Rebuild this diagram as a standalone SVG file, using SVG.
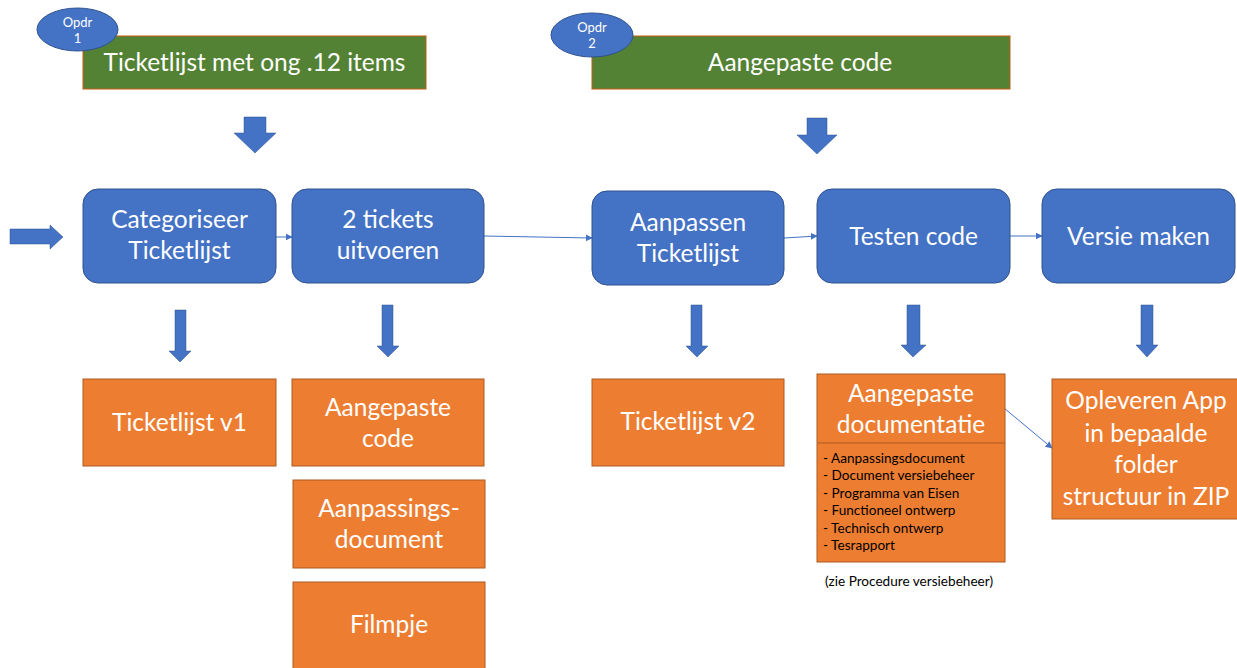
<svg xmlns="http://www.w3.org/2000/svg" width="1237" height="668" viewBox="0 0 1237 668">
<defs>
<style>
.t{font-family:Lato,"Open Sans","Liberation Sans",sans-serif;fill:#fff;text-anchor:middle}
.big{font-size:24.5px}
.green{fill:#548235;stroke:#C55A11;stroke-width:1}
.blue{fill:#4472C4;stroke:#2F528F;stroke-width:1}
.orange{fill:#ED7D31;stroke:#AE5A21;stroke-width:1}
.ell{fill:#4472C4;stroke:#2F528F;stroke-width:1}
.blk{fill:#4472C4;stroke:#2F528F;stroke-width:0.5}
.conn{stroke:#4472C4;stroke-width:1;fill:none;marker-end:url(#ah)}
.list{font-family:Lato,"Open Sans","Liberation Sans",sans-serif;font-size:13.6px;fill:#000}
</style>
<marker id="ah" viewBox="0 0 10 10" refX="9" refY="5" markerWidth="7" markerHeight="7" markerUnits="userSpaceOnUse" orient="auto">
<path d="M0,0 L10,5 L0,10 z" fill="#4472C4"/>
</marker>
</defs>
<rect width="1237" height="668" fill="#fff"/>

<g id="opdr1-header">
<rect class="green" x="83" y="36" width="343" height="53"/>
<text class="t big" x="254.5" y="71">Ticketlijst met ong .12 items</text>
</g>
<g id="opdr1-badge">
<ellipse class="ell" cx="77.5" cy="29.5" rx="40.5" ry="21.5"/>
<text class="t" font-size="13" x="77.5" y="27">Opdr</text>
<text class="t" font-size="13" x="77.5" y="43">1</text>
</g>
<g id="opdr2-header">
<rect class="green" x="592" y="36" width="418" height="53"/>
<text class="t big" x="800" y="71">Aangepaste code</text>
</g>
<g id="opdr2-badge">
<ellipse class="ell" cx="592" cy="35" rx="41" ry="22"/>
<text class="t" font-size="13" x="592" y="32">Opdr</text>
<text class="t" font-size="13" x="592" y="48">2</text>
</g>

<g id="block-arrows">
<path class="blk" d="M244,117 H266 V133 H276 L255,153 L234,133 H244 Z"/>
<path class="blk" d="M807,118 H827 V135 H837 L817,154 L797,135 H807 Z"/>
<path class="blk" d="M10,229 H50 V225 L63,237 L50,249 V244 H10 Z"/>
<path class="blk" d="M175,310 H186 V351 H191 L180,362 L169,351 H175 Z"/>
<path class="blk" d="M382,305 H393 V346 H399 L388,357 L377,346 H382 Z"/>
<path class="blk" d="M691,305 H702 V346 H708 L697,357 L686,346 H691 Z"/>
<path class="blk" d="M907,305 H920 V345 H926 L913,357 L901,345 H907 Z"/>
<path class="blk" d="M1141,305 H1153 V345 H1158 L1147,357 L1136,345 H1141 Z"/>
</g>

<g id="connectors">
<line class="conn" x1="276" y1="237" x2="292" y2="237"/>
<line class="conn" x1="484" y1="236" x2="592" y2="238"/>
<line class="conn" x1="784" y1="238" x2="817" y2="236"/>
<line class="conn" x1="1010" y1="236" x2="1042" y2="236"/>
<line class="conn" x1="1004" y1="408" x2="1052" y2="448"/>
</g>

<g id="categoriseer">
<rect class="blue" x="83" y="189" width="193" height="94" rx="15"/>
<text class="t big" x="179.5" y="228">Categoriseer</text>
<text class="t big" x="179.5" y="259">Ticketlijst</text>
</g>
<g id="tickets-uitvoeren">
<rect class="blue" x="292" y="189" width="192" height="94" rx="15"/>
<text class="t big" x="388" y="228">2 tickets</text>
<text class="t big" x="388" y="259">uitvoeren</text>
</g>
<g id="aanpassen">
<rect class="blue" x="592" y="191" width="192" height="94" rx="15"/>
<text class="t big" x="688" y="231">Aanpassen</text>
<text class="t big" x="688" y="262">Ticketlijst</text>
</g>
<g id="testen">
<rect class="blue" x="817" y="189" width="193" height="94" rx="15"/>
<text class="t big" x="913.5" y="245">Testen code</text>
</g>
<g id="versie">
<rect class="blue" x="1042" y="189" width="193" height="94" rx="15"/>
<text class="t big" x="1138.5" y="245">Versie maken</text>
</g>

<g id="ticketlijst-v1">
<rect class="orange" x="83" y="379" width="193" height="87"/>
<text class="t big" x="179.5" y="431">Ticketlijst v1</text>
</g>
<g id="aangepaste-code">
<rect class="orange" x="292" y="379" width="192" height="87"/>
<text class="t big" x="388" y="416">Aangepaste</text>
<text class="t big" x="388" y="447">code</text>
</g>
<g id="aanpassingsdocument">
<rect class="orange" x="293" y="480" width="192" height="88"/>
<text class="t big" x="389" y="517">Aanpassings-</text>
<text class="t big" x="389" y="548">document</text>
</g>
<g id="filmpje">
<rect class="orange" x="293" y="582" width="192" height="90"/>
<text class="t big" x="389" y="633">Filmpje</text>
</g>
<g id="ticketlijst-v2">
<rect class="orange" x="592" y="379" width="192" height="87"/>
<text class="t big" x="688" y="430">Ticketlijst v2</text>
</g>
<g id="documentatie">
<rect class="orange" x="817" y="374" width="188" height="188"/>
<line x1="817" y1="443" x2="1005" y2="443" stroke="#AE5A21" stroke-width="1"/>
<text class="t big" x="911" y="402">Aangepaste</text>
<text class="t big" x="911" y="433">documentatie</text>
<text class="list" x="823" y="463">- Aanpassingsdocument</text>
<text class="list" x="823" y="480">- Document versiebeheer</text>
<text class="list" x="823" y="498">- Programma van Eisen</text>
<text class="list" x="823" y="515">- Functioneel ontwerp</text>
<text class="list" x="823" y="533">- Technisch ontwerp</text>
<text class="list" x="823" y="550">- Tesrapport</text>
</g>
<g id="caption">
<text class="list" font-size="13.3" x="909" y="586" text-anchor="middle">(zie Procedure versiebeheer)</text>
</g>
<g id="opleveren">
<rect class="orange" x="1052" y="379" width="190" height="140"/>
<text class="t big" x="1146" y="409">Opleveren App</text>
<text class="t big" x="1146" y="442">in bepaalde</text>
<text class="t big" x="1146" y="473">folder</text>
<text class="t big" x="1146" y="505">structuur in ZIP</text>
</g>
</svg>
